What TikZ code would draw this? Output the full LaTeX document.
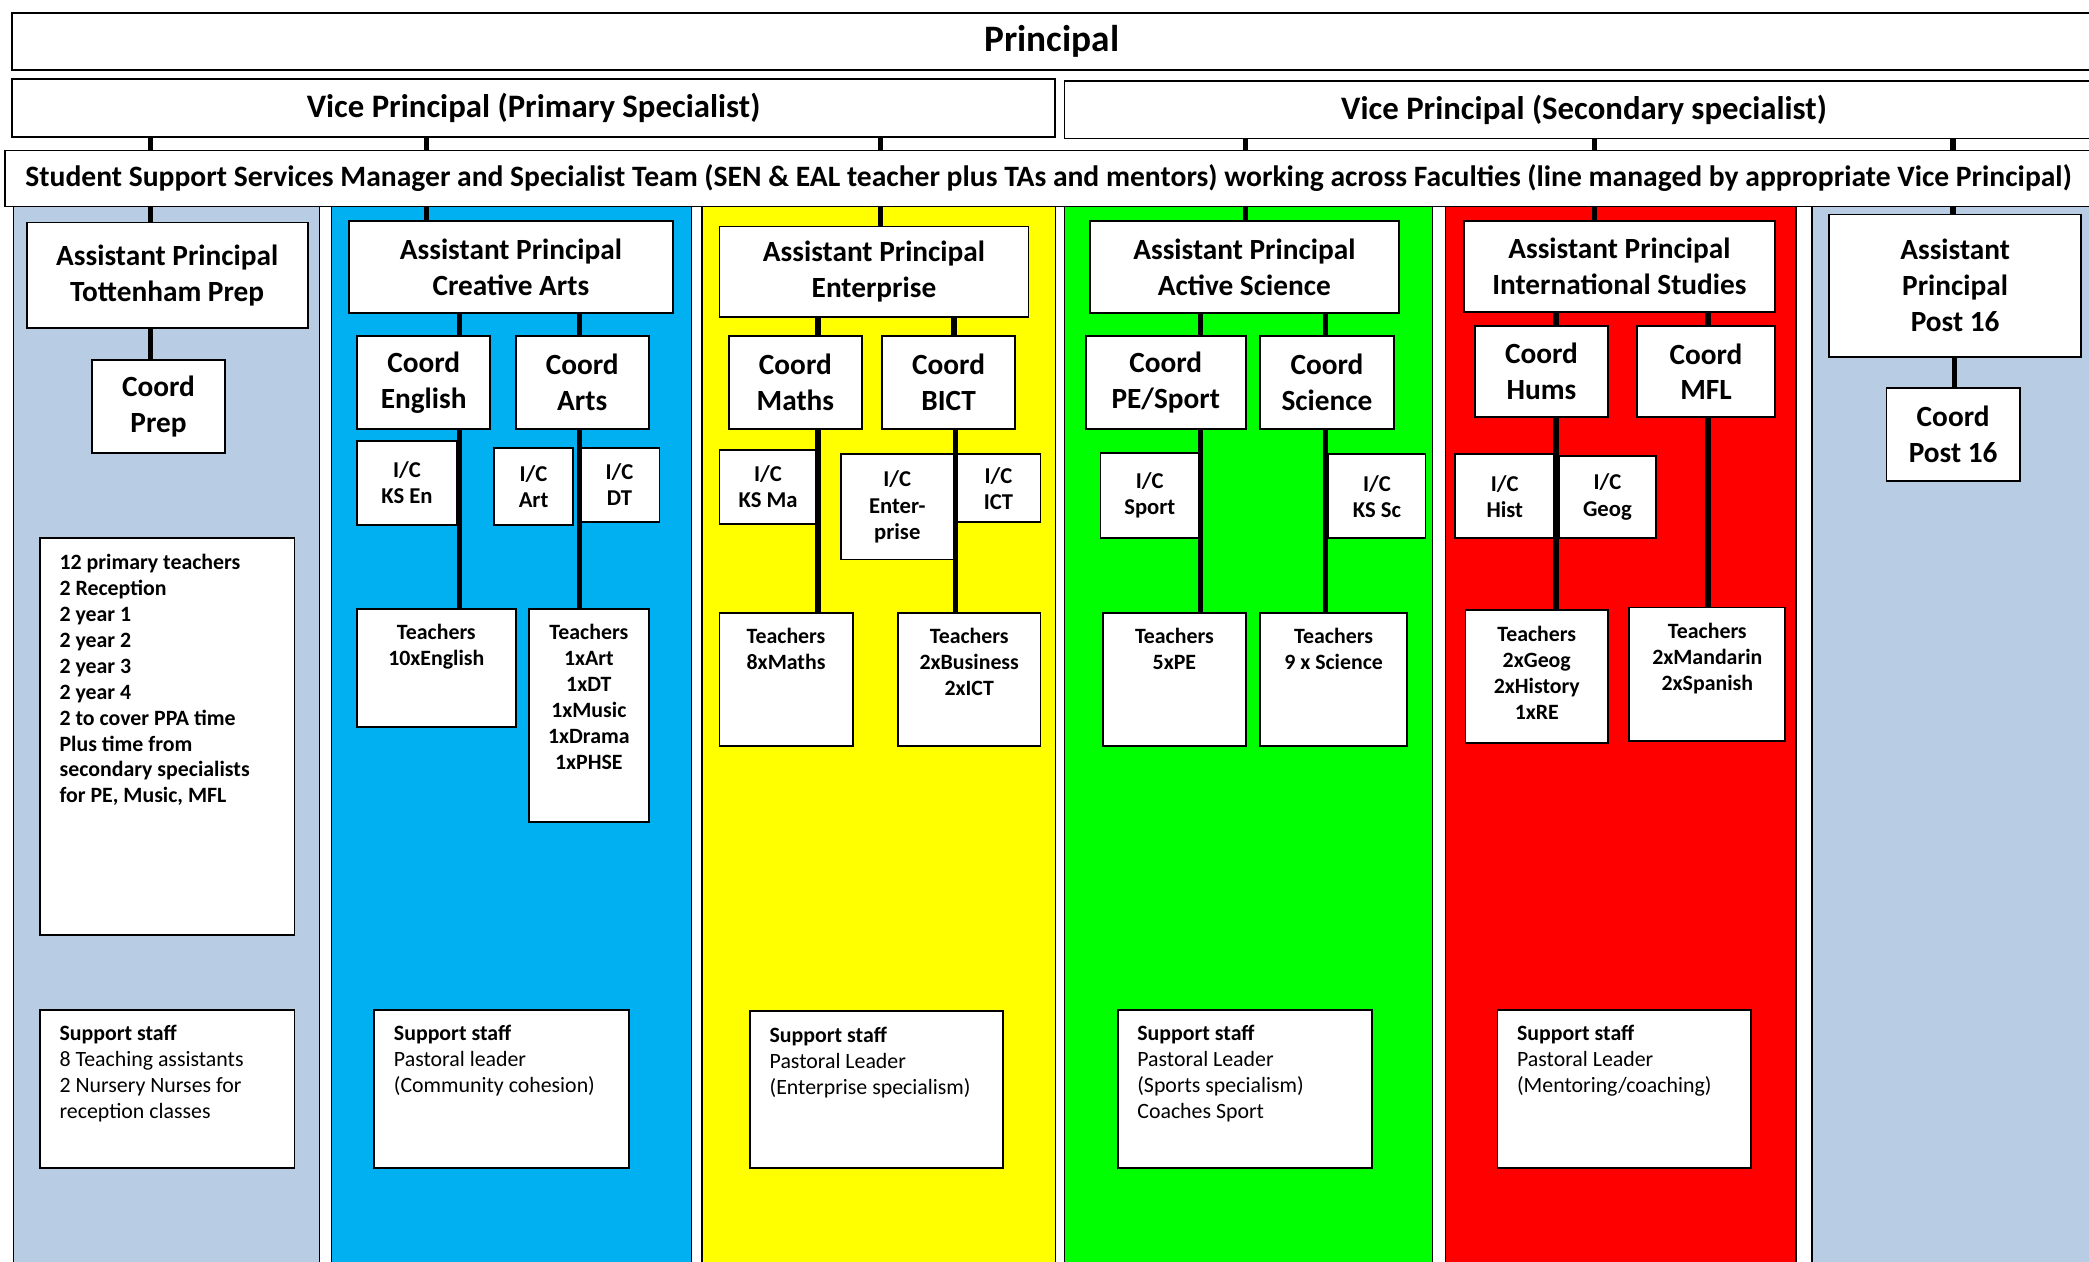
\documentclass[tikz,border=0pt]{standalone}
\usepackage{fontspec}
\setmainfont{Carlito}

\definecolor{paleblue}{HTML}{B8CCE4}
\definecolor{artcyan}{HTML}{00B0F0}
\definecolor{entyellow}{HTML}{FFFF00}
\definecolor{scigreen}{HTML}{00FF00}
\definecolor{intred}{HTML}{FF0000}

\newcommand\topfont{\fontsize{14}{17}\selectfont\bfseries}
\newcommand\vpfont{\fontsize{12.3}{15}\selectfont\bfseries}
\newcommand\ssfont{\fontsize{11.1}{13}\selectfont\bfseries}
\newcommand\apfont{\fontsize{11}{13.5}\selectfont\bfseries}
\newcommand\icfont{\fontsize{8.5}{9.8}\selectfont\bfseries}
\newcommand\smfont{\fontsize{8.2}{9.75}\selectfont}

\begin{document}
\begin{tikzpicture}[x=0.5pt, y=-0.5pt,
  box/.style={draw, fill=white, line width=0.7pt, inner sep=0pt},
  head/.style={box, font=\topfont},
  vp/.style={box, font=\vpfont},
  ssm/.style={box, font=\ssfont},
  ap/.style={box, font=\apfont, align=center},
  ic/.style={box, font=\icfont, align=center},
  tlab/.style={label={[font=\smfont\bfseries, align=center, anchor=north,
                inner sep=0pt, yshift=-6pt]north:#1}},
  llab/.style={label={[font=\smfont, align=left, anchor=north west,
                inner sep=0pt, xshift=7.5pt, yshift=-6pt]north west:#1}},
  col/.style={draw=black, line width=0.5pt},
  conn/.style={line width=2pt}]
  \useasboundingbox (0,0) rectangle (1568,947);
  \clip (0,0) rectangle (1568,947);

  % faculty columns
  \draw[col, fill=paleblue]   (10,155)   rectangle (240,960);
  \draw[col, fill=artcyan]    (249,155)  rectangle (519,960);
  \draw[col, fill=entyellow]  (527,155)  rectangle (792,960);
  \draw[col, fill=scigreen]   (799,155)  rectangle (1075,960);
  \draw[col, fill=intred]     (1085,155) rectangle (1348,960);
  \draw[col, fill=paleblue]   (1360,155) rectangle (1600,960);

  % senior team
  \node[head, minimum width=780.5pt, minimum height=21.5pt] (prin) at (789.5,31) {Principal};
  \node[vp, minimum width=391.5pt, minimum height=22pt] (vpp) at (400.5,81) {Vice Principal (Primary Specialist)};
  \node[vp, minimum width=390pt, minimum height=21.5pt] (vps) at (1189,82.5) {Vice Principal (Secondary specialist)};
  \node[ssm, minimum width=783pt, minimum height=21pt] (sss) at (787,134) {Student Support Services Manager and Specialist Team (SEN \& EAL teacher plus TAs and mentors) working across Faculties (line managed by appropriate Vice Principal)};

  % Tottenham Prep
  \node[ap, minimum width=105.5pt, minimum height=39.5pt] (apTP) at (125.5,206.5) {Assistant Principal\\Tottenham Prep};
  \node[ap, minimum width=50pt, minimum height=35pt] (coPrep) at (119,305) {Coord\\Prep};
  \node[box, minimum width=95.5pt, minimum height=149pt, llab={\bfseries 12 primary teachers\\\bfseries 2 Reception\\\bfseries 2 year 1\\\bfseries 2 year 2\\\bfseries 2 year 3\\\bfseries 2 year 4\\\bfseries 2 to cover PPA time\\\bfseries Plus time from\\\bfseries secondary specialists\\\bfseries for PE, Music, MFL}] (prepList) at (125.5,553) {};
  \node[box, minimum width=95.5pt, minimum height=59.5pt, llab={\textbf{Support staff}\\8 Teaching assistants\\2 Nursery Nurses for\\reception classes}] (supTP) at (125.5,817.5) {};

  % Creative Arts
  \node[ap, minimum width=121.5pt, minimum height=34.5pt] (apCA) at (383.5,200.5) {Assistant Principal\\Creative Arts};
  \node[ap, minimum width=50pt, minimum height=35pt] (coEng) at (318,287) {Coord\\English};
  \node[ap, minimum width=50pt, minimum height=35pt] (coArt) at (437,287) {Coord\\Arts};
  \node[ic, minimum width=37.5pt, minimum height=31.5pt] (icKSEn) at (305.5,362.5) {I/C\\KS En};
  \node[ic, minimum width=29.5pt, minimum height=29pt] (icArt) at (400.5,365) {I/C\\Art};
  \node[ic, minimum width=30pt, minimum height=28pt] (icDT) at (465,364) {I/C\\DT};
  \node[box, minimum width=59.5pt, minimum height=44.5pt, tlab={Teachers\\10xEnglish}] (tEng) at (327.5,501.5) {};
  \node[box, minimum width=45pt, minimum height=80pt, tlab={Teachers\\1xArt\\1xDT\\1xMusic\\1xDrama\\1xPHSE}] (tArt) at (442,537) {};
  \node[box, minimum width=95.5pt, minimum height=59.5pt, llab={\textbf{Support staff}\\Pastoral leader\\(Community cohesion)}] (supCA) at (376.5,817.5) {};

  % Enterprise
  \node[ap, minimum width=116pt, minimum height=34pt] (apEN) at (656,204) {Assistant Principal\\Enterprise};
  \node[ap, minimum width=50pt, minimum height=35pt] (coMa) at (597,287) {Coord\\Maths};
  \node[ap, minimum width=50pt, minimum height=35pt] (coBICT) at (712,287) {Coord\\BICT};
  \node[ic, minimum width=36.5pt, minimum height=27.5pt] (icKSMa) at (576.5,365.5) {I/C\\KS Ma};
  \node[ic, minimum width=42.5pt, minimum height=39.5pt] (icEnt) at (673.5,380.5) {I/C\\Enter-\\prise};
  \node[ic, minimum width=31.5pt, minimum height=25.5pt] (icICT) at (749.5,366.5) {I/C\\ICT};
  \node[box, minimum width=50pt, minimum height=50pt, tlab={Teachers\\8xMaths}] (tMa) at (590,510) {};
  \node[box, minimum width=53.5pt, minimum height=50pt, tlab={Teachers\\2xBusiness\\2xICT}] (tBus) at (727.5,510) {};
  \node[box, minimum width=95pt, minimum height=59pt, llab={\textbf{Support staff}\\Pastoral Leader\\(Enterprise specialism)}] (supEN) at (658,818) {};

  % Active Science
  \node[ap, minimum width=116pt, minimum height=34.5pt] (apAS) at (934,200.5) {Assistant Principal\\Active Science};
  \node[ap, minimum width=60pt, minimum height=35pt] (coPE) at (875,287) {Coord\\PE/Sport};
  \node[ap, minimum width=50pt, minimum height=35pt] (coSc) at (996,287) {Coord\\Science};
  \node[ic, minimum width=37pt, minimum height=32pt] (icSport) at (863,372) {I/C\\Sport};
  \node[ic, minimum width=36.5pt, minimum height=31.5pt] (icKSSc) at (1033.5,372.5) {I/C\\KS Sc};
  \node[box, minimum width=53.5pt, minimum height=50pt, tlab={Teachers\\5xPE}] (tPE) at (881.5,510) {};
  \node[box, minimum width=55pt, minimum height=50pt, tlab={Teachers\\9 x Science}] (tSc) at (1001,510) {};
  \node[box, minimum width=95.5pt, minimum height=59.5pt, llab={\textbf{Support staff}\\Pastoral Leader\\(Sports specialism)\\Coaches Sport}] (supAS) at (934.5,817.5) {};

  % International Studies
  \node[ap, minimum width=116.5pt, minimum height=34pt] (apIS) at (1215.5,200) {Assistant Principal\\International Studies};
  \node[ap, minimum width=50pt, minimum height=34pt] (coHums) at (1157,279) {Coord\\Hums};
  \node[ap, minimum width=51.5pt, minimum height=34pt] (coMFL) at (1280.5,279) {Coord\\MFL};
  \node[ic, minimum width=37.5pt, minimum height=31.5pt] (icHist) at (1129.5,372.5) {I/C\\Hist};
  \node[ic, minimum width=36.5pt, minimum height=31pt] (icGeog) at (1206.5,373) {I/C\\Geog};
  \node[box, minimum width=53.5pt, minimum height=50pt, tlab={Teachers\\2xGeog\\2xHistory\\1xRE}] (tHums) at (1153.5,508) {};
  \node[box, minimum width=58.5pt, minimum height=50pt, tlab={Teachers\\2xMandarin\\2xSpanish}] (tMFL) at (1281.5,506) {};
  \node[box, minimum width=95pt, minimum height=59.5pt, llab={\textbf{Support staff}\\Pastoral Leader\\(Mentoring/coaching)}] (supIS) at (1219,817.5) {};

  % Post 16
  \node[ap, minimum width=94.5pt, minimum height=53.5pt] (apP16) at (1467.5,214.5) {Assistant\\Principal\\Post 16};
  \node[ap, minimum width=50pt, minimum height=35pt] (coP16) at (1466,326) {Coord\\Post 16};

  % lines of management
  \foreach \x in {113,320,661}
    \draw[conn] (vpp.south -| \x,0) -- (sss.north -| \x,0);
  \foreach \x in {935,1197,1466}
    \draw[conn] (vps.south -| \x,0) -- (sss.north -| \x,0);
  \draw[conn] (sss.south -| 113,0) -- (apTP.north -| 113,0);
  \draw[conn] (sss.south -| 320,0) -- (apCA.north -| 320,0);
  \draw[conn] (sss.south -| 661,0) -- (apEN.north -| 661,0);
  \draw[conn] (sss.south -| 935,0) -- (apAS.north -| 935,0);
  \draw[conn] (sss.south -| 1197,0) -- (apIS.north -| 1197,0);
  \draw[conn] (sss.south -| 1466,0) -- (apP16.north -| 1466,0);

  \draw[conn] (apTP.south -| 113,0) -- (coPrep.north -| 113,0);
  \draw[conn] (apCA.south -| 345,0) -- (coEng.north -| 345,0);
  \draw[conn] (apCA.south -| 435,0) -- (coArt.north -| 435,0);
  \draw[conn] (coEng.south -| 345,0) -- (tEng.north -| 345,0);
  \draw[conn] (coArt.south -| 435,0) -- (tArt.north -| 435,0);
  \draw[conn] (apEN.south -| 614,0) -- (coMa.north -| 614,0);
  \draw[conn] (apEN.south -| 716,0) -- (coBICT.north -| 716,0);
  \draw[conn] (coMa.south -| 614,0) -- (tMa.north -| 614,0);
  \draw[conn] (coBICT.south -| 717,0) -- (tBus.north -| 717,0);
  \draw[conn] (apAS.south -| 901,0) -- (coPE.north -| 901,0);
  \draw[conn] (apAS.south -| 995,0) -- (coSc.north -| 995,0);
  \draw[conn] (coPE.south -| 901,0) -- (tPE.north -| 901,0);
  \draw[conn] (coSc.south -| 995,0) -- (tSc.north -| 995,0);
  \draw[conn] (apIS.south -| 1168,0) -- (coHums.north -| 1168,0);
  \draw[conn] (apIS.south -| 1282,0) -- (coMFL.north -| 1282,0);
  \draw[conn] (coHums.south -| 1168,0) -- (tHums.north -| 1168,0);
  \draw[conn] (coMFL.south -| 1282,0) -- (tMFL.north -| 1282,0);
  \draw[conn] (apP16.south -| 1467,0) -- (coP16.north -| 1467,0);
\end{tikzpicture}
\end{document}
